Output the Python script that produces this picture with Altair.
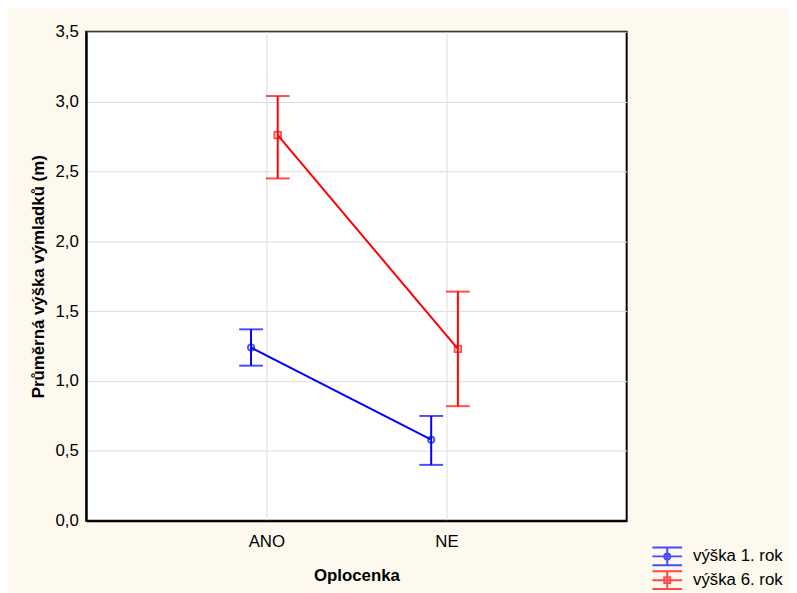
import altair as alt
import pandas as pd

# ---- data ----
categories = ["ANO", "NE"]
series_names = ["výška 1. rok", "výška 6. rok"]
mean_1 = [1.24, 0.58]
low_1 = [1.11, 0.40]
high_1 = [1.37, 0.75]
mean_6 = [2.76, 1.23]
low_6 = [2.45, 0.82]
high_6 = [3.04, 1.64]
y_ticks = [0.0, 0.5, 1.0, 1.5, 2.0, 2.5, 3.0, 3.5]

# horizontal dodge of the two series around each category
dodge = {series_names[0]: -0.085, series_names[1]: 0.063}

rows = []
for s, m, lo, hi in [(series_names[0], mean_1, low_1, high_1),
                     (series_names[1], mean_6, low_6, high_6)]:
    for i, c in enumerate(categories):
        rows.append({"series": s, "cat": c, "pos": i + 1 + dodge[s],
                     "mean": m[i], "lo": lo[i], "hi": hi[i]})
df = pd.DataFrame(rows)

FONT = "Liberation Sans"
colors = ["#0000ff", "#ff0000"]

cat_array = "[" + ",".join("'" + c + "'" for c in categories) + "]"
x_axis = alt.Axis(values=[1, 2], labelExpr=cat_array + "[datum.value - 1]",
                  title="Oplocenka", grid=True, ticks=False, tickSize=0,
                  labelPadding=13, titlePadding=18)
y_axis = alt.Axis(values=y_ticks,
                  labelExpr="replace(format(datum.value, '.1f'), '.', ',')",
                  title="Průměrná výška výmladků (m)", grid=True, ticks=False,
                  tickSize=0, labelPadding=8, titlePadding=8)
x_scale = alt.Scale(domain=[0, 3], nice=False, zero=False)
y_scale = alt.Scale(domain=[0, 3.5], nice=False)


def X():
    return alt.X("pos:Q", scale=x_scale, axis=x_axis)


def Y(field):
    return alt.Y(field, scale=y_scale, axis=y_axis, title="Průměrná výška výmladků (m)")


def C(legend=None):
    if legend is None:
        return alt.Color("series:N", scale=alt.Scale(domain=series_names, range=colors), legend=None)
    return alt.Color("series:N", scale=alt.Scale(domain=series_names, range=colors), legend=legend)


base = alt.Chart(df)
LW = 2

lines = base.mark_line(strokeWidth=LW).encode(x=X(), y=Y("mean:Q"), color=C(), order="pos:Q")
rules = base.mark_rule(strokeWidth=LW).encode(x=X(), y=Y("lo:Q"), y2="hi:Q", color=C())
caps_hi = base.mark_tick(orient="horizontal", size=24, thickness=LW).encode(
    x=X(), y=Y("hi:Q"), color=C())
caps_lo = base.mark_tick(orient="horizontal", size=24, thickness=LW).encode(
    x=X(), y=Y("lo:Q"), color=C())
pts_c = base.transform_filter(alt.datum.series == series_names[0]).mark_point(
    shape="circle", size=40, filled=False, strokeWidth=1.8).encode(x=X(), y=Y("mean:Q"), color=C())
pts_s = base.transform_filter(alt.datum.series == series_names[1]).mark_point(
    shape="square", size=44, filled=False, strokeWidth=1.8).encode(x=X(), y=Y("mean:Q"), color=C())

common = "M-1.5,-0.9H1.5M-1.5,0H1.5M-1.5,0.9H1.5M0,-0.9V0.9"
path_circle = common + "M0.3,0A0.3,0.3,0,1,1,-0.3,0A0.3,0.3,0,1,1,0.3,0Z"
path_square = common + "M-0.3,-0.3H0.3V0.3H-0.3Z"

leg = alt.Legend(orient="none", legendX=576, legendY=519, title=None,
                 symbolSize=400, symbolStrokeWidth=2, labelOffset=15,
                 rowPadding=-4, labelFontSize=17, labelFont=FONT, labelColor="#000000")
legend_layer = base.transform_filter("false").mark_point(filled=False, strokeWidth=2).encode(
    x=X(), y=Y("mean:Q"), color=C(leg),
    shape=alt.Shape("series:N", scale=alt.Scale(domain=series_names, range=[path_circle, path_square]),
                    legend=leg))

chart = alt.layer(lines, rules, caps_hi, caps_lo, pts_c, pts_s, legend_layer).resolve_scale(
    color="independent", shape="independent"
).properties(
    width=546, height=494,
    padding={"left": 79, "top": 21, "right": 164, "bottom": 70},
    autosize=alt.AutoSizeParams(type="none"),
    background="#fdf9ef",
).configure_view(
    stroke="#000000", strokeWidth=2, fill="#ffffff"
).configure_axis(
    labelFont=FONT, labelFontSize=17, labelColor="#000000",
    titleFont=FONT, titleFontSize=17, titleFontWeight="bold", titleColor="#000000",
    domainColor="#000000", domainWidth=2, gridColor="#dddddd", gridWidth=1,
)

chart.save("out.html", embed_options={"renderer": "svg", "actions": False})
